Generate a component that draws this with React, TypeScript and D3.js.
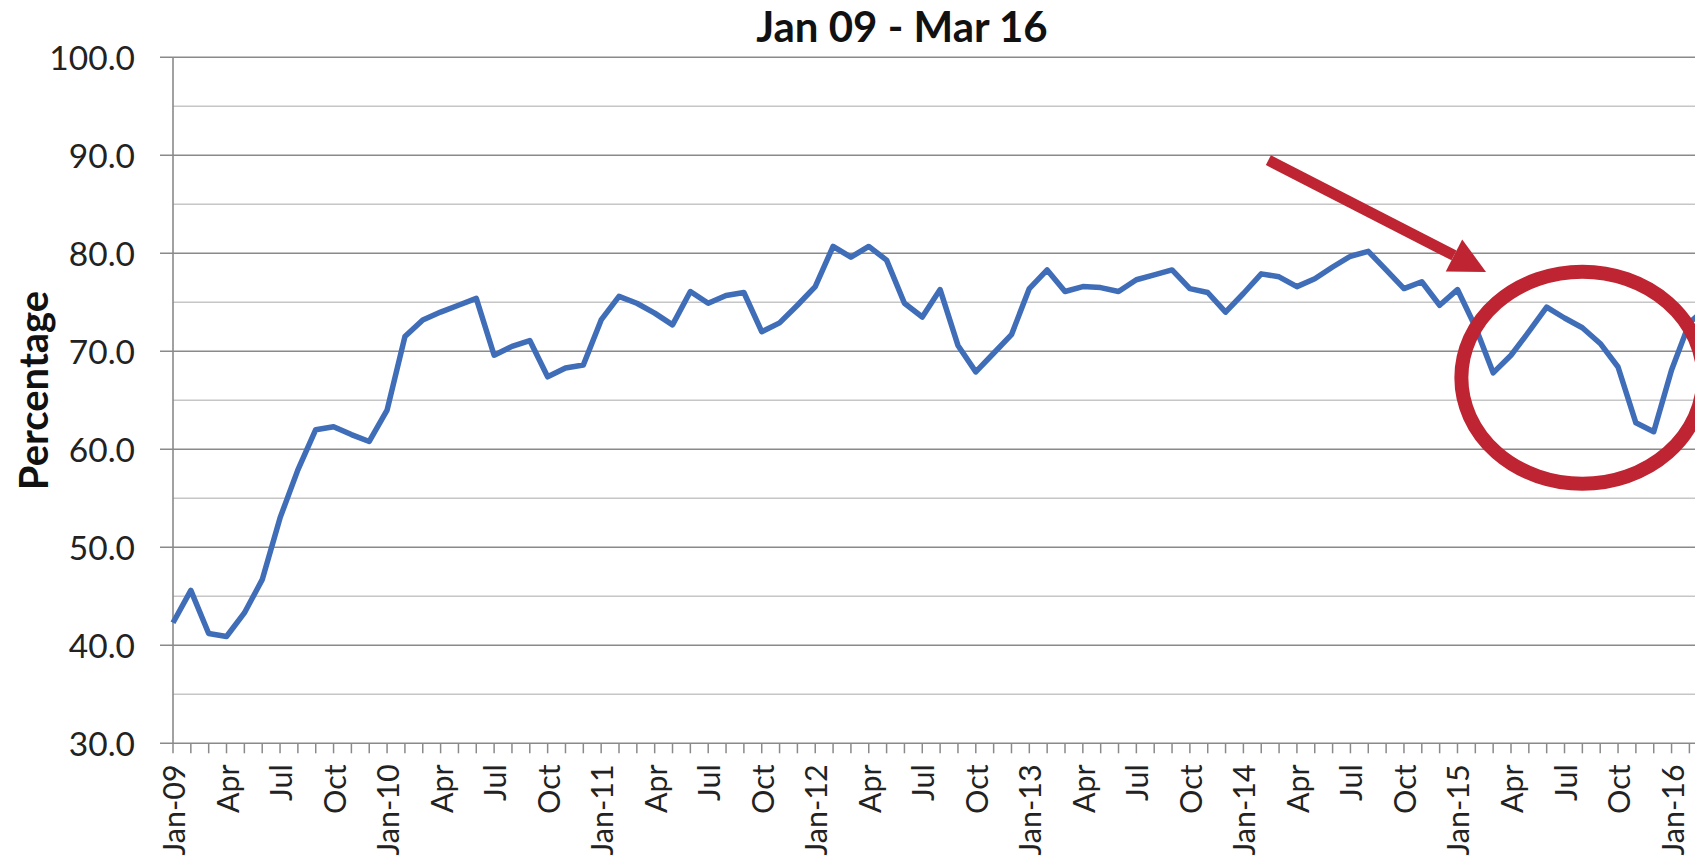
import React from 'react'
import * as d3 from 'd3'

const TITLE = 'Jan 09 - Mar 16'
const Y_LABEL = 'Percentage'

// monthly series, Jan 2009 .. Mar 2016
const FIRST_MONTH = new Date(2009, 0, 1)
const LAST_MONTH = new Date(2016, 2, 1)
const percentages = [
  42.3, 45.6, 41.2, 40.9, 43.3, 46.7, 53.0, 57.9, 62.0, 62.3, 61.5, 60.8,
  64.0, 71.5, 73.2, 74.0, 74.7, 75.4, 69.6, 70.5, 71.1, 67.4, 68.3, 68.6,
  73.2, 75.6, 74.9, 73.9, 72.7, 76.1, 74.9, 75.7, 76.0, 72.0, 72.9, 74.7,
  76.6, 80.7, 79.6, 80.7, 79.3, 74.9, 73.5, 76.3, 70.6, 67.9, 69.8, 71.7,
  76.4, 78.3, 76.1, 76.6, 76.5, 76.1, 77.3, 77.8, 78.3, 76.4, 76.0, 74.0,
  75.9, 77.9, 77.6, 76.6, 77.4, 78.6, 79.7, 80.2, 78.3, 76.4, 77.1, 74.7,
  76.3, 72.5, 67.8, 69.6, 72.0, 74.5, 73.4, 72.4, 70.8, 68.4, 62.7, 61.8,
  68.1, 72.9, 74.5,
]

const majorTicks = [30, 40, 50, 60, 70, 80, 90, 100]
const minorTicks = [35, 45, 55, 65, 75, 85, 95]

// annotation: circle around the 2015 dip, arrow pointing at it
const circleCenter = { month: 79, value: 67.3 }
const arrowFrom = { month: 61.4, value: 89.5 }
const arrowTo = { month: 73.6, value: 78.1 }

const W = 1695
const H = 862
const FONT = "Lato, 'Open Sans', sans-serif"
const RED = '#BE2431'

export default function App() {
  const months = d3.timeMonth.range(FIRST_MONTH, d3.timeMonth.offset(LAST_MONTH, 1))
  const data = months.map((d, i) => ({ i, date: d, value: percentages[i] }))

  const left = 173
  const monthW = 17.84
  const x = d3.scaleLinear().domain([0, months.length - 1]).range([left, left + (months.length - 1) * monthW])
  const y = d3.scaleLinear().domain([30, 100]).range([743.3, 57.3])

  const line = d3.line<{ i: number; value: number }>()
    .x(d => x(d.i))
    .y(d => y(d.value))

  const fmtMonth = d3.timeFormat('%b')
  const fmtYear = d3.timeFormat('%b-%y')
  const labelled = data.filter(d => d.i % 3 === 0)

  // arrow geometry
  const ax1 = x(arrowFrom.month), ay1 = y(arrowFrom.value)
  const ax2 = x(arrowTo.month), ay2 = y(arrowTo.value)
  const ang = Math.atan2(ay2 - ay1, ax2 - ax1)
  const headLen = 36, headHalf = 18
  const bx = ax2 - headLen * Math.cos(ang), by = ay2 - headLen * Math.sin(ang)
  const px = -Math.sin(ang), py = Math.cos(ang)
  const head = [
    [ax2, ay2],
    [bx + headHalf * px, by + headHalf * py],
    [bx - headHalf * px, by - headHalf * py],
  ].map(p => p.join(',')).join(' ')

  const bottom = y(30)

  return (
    <svg width={W} height={H} style={{ position: 'absolute', left: 0, top: 0, background: '#fff' }}>
      <rect width={W} height={H} fill="#fff" />

      {/* gridlines */}
      {minorTicks.map(t => (
        <line key={'m' + t} x1={left} x2={W} y1={y(t)} y2={y(t)} stroke="#c6c6c6" strokeWidth={1.5} />
      ))}
      {majorTicks.map(t => (
        <line key={'M' + t} x1={left - 13} x2={W} y1={y(t)} y2={y(t)} stroke="#8a8a8a" strokeWidth={1.6} />
      ))}

      {/* y axis */}
      <line x1={left} x2={left} y1={y(100)} y2={bottom} stroke="#8a8a8a" strokeWidth={1.6} />
      {majorTicks.map(t => (
        <text key={'yl' + t} x={135} y={y(t)} textAnchor="end" dominantBaseline="central"
          fontFamily={FONT} fontSize={33.5} fill="#222">{t.toFixed(1)}</text>
      ))}
      <text transform={`translate(48,${y(66)}) rotate(-90)`} textAnchor="middle"
        fontFamily={FONT} fontSize={40} fontWeight="bold" fill="#111">{Y_LABEL}</text>

      {/* x axis ticks and labels */}
      {data.map(d => (
        <line key={'xt' + d.i} x1={x(d.i)} x2={x(d.i)} y1={bottom} y2={bottom + 10} stroke="#8a8a8a" strokeWidth={1.5} />
      ))}
      {labelled.map(d => (
        <text key={'xl' + d.i} transform={`translate(${x(d.i)},${bottom + 21}) rotate(-90)`}
          textAnchor="end" dominantBaseline="central" fontFamily={FONT} fontSize={30.5} fill="#222">
          {d.date.getMonth() === 0 ? fmtYear(d.date) : fmtMonth(d.date)}
        </text>
      ))}

      {/* series */}
      <path d={line(data) || ''} fill="none" stroke="#3F6DB8" strokeWidth={5.5} strokeLinejoin="round" />

      {/* title */}
      <text x={902} y={42} textAnchor="middle" fontFamily={FONT} fontSize={42} fontWeight="bold" fill="#111">{TITLE}</text>

      {/* annotation */}
      <ellipse cx={x(circleCenter.month)} cy={y(circleCenter.value)} rx={121} ry={106}
        fill="none" stroke={RED} strokeWidth={14} />
      <line x1={ax1} y1={ay1} x2={bx} y2={by} stroke={RED} strokeWidth={11} />
      <polygon points={head} fill={RED} />
    </svg>
  )
}
